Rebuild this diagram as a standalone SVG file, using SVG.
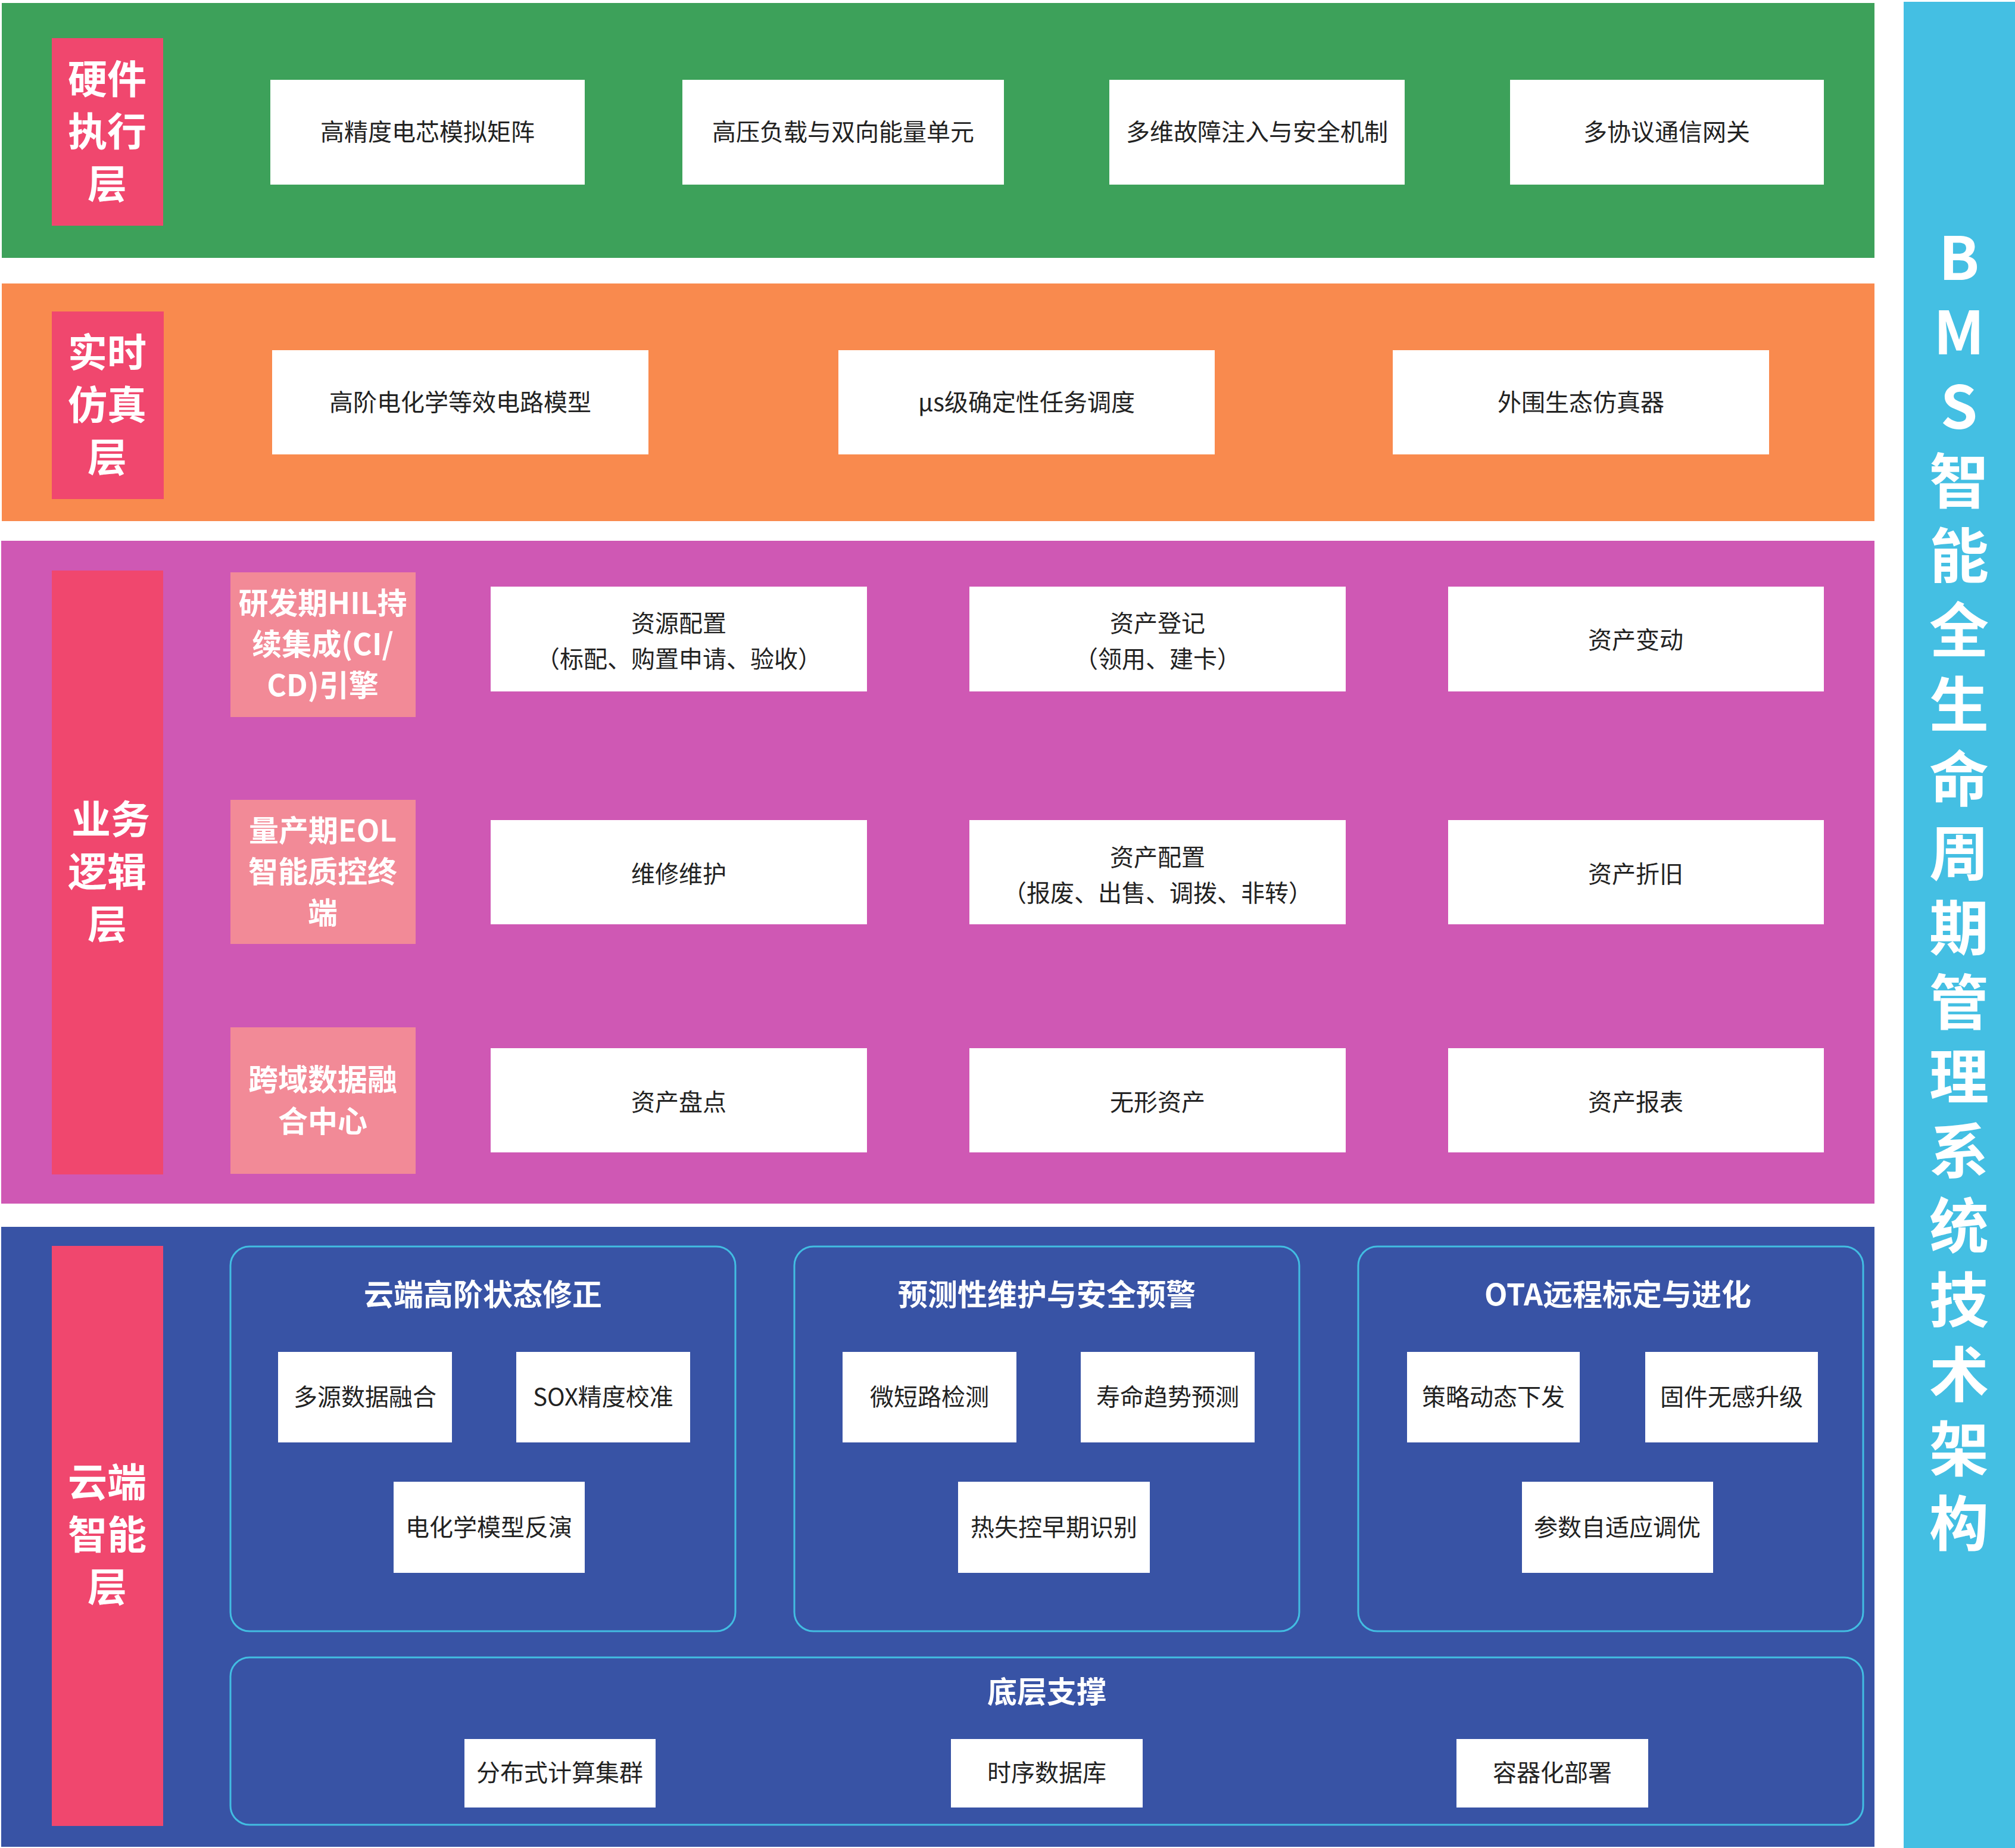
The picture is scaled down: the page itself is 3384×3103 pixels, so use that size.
<svg xmlns="http://www.w3.org/2000/svg" width="3384" height="3103" viewBox="0 0 3384 3103">
<style>
text{font-family:"Noto Sans CJK SC","Noto Sans",sans-serif;text-anchor:middle}
.box{fill:#ffffff}
.bt{font-size:40px;fill:#222222}
.lab{fill:#F0476E}
.lt{font-size:66px;font-weight:bold;fill:#ffffff}
.sub{fill:#F28A97}
.st{font-size:50px;font-weight:bold;fill:#ffffff}
.grp{fill:none;stroke:#42BDE2;stroke-width:3}
.gt{font-size:50px;font-weight:bold;fill:#ffffff}
.side{font-size:100px;font-weight:bold;fill:#ffffff;writing-mode:vertical-rl;text-orientation:upright;letter-spacing:25px;text-anchor:start}
</style>
<rect width="3384" height="3103" fill="#ffffff"/>

<g id="layer-hardware">
<rect x="3" y="5" width="3145" height="428" fill="#3DA15A"/>
<rect class="lab" x="87" y="64" width="187" height="315"/>
<text class="lt" x="180"><tspan x="180" y="157">硬件</tspan><tspan x="180" y="245">执行</tspan><tspan x="180" y="333">层</tspan></text>
</g>
<g id="n-hw1"><rect class="box" x="454" y="134" width="528" height="176"/><text class="bt" x="718" y="236">高精度电芯模拟矩阵</text></g>
<g id="n-hw2"><rect class="box" x="1146" y="134" width="540" height="176"/><text class="bt" x="1416" y="236">高压负载与双向能量单元</text></g>
<g id="n-hw3"><rect class="box" x="1863" y="134" width="496" height="176"/><text class="bt" x="2111" y="236">多维故障注入与安全机制</text></g>
<g id="n-hw4"><rect class="box" x="2536" y="134" width="527" height="176"/><text class="bt" x="2799" y="236">多协议通信网关</text></g>

<g id="layer-sim">
<rect x="3" y="476" width="3145" height="399" fill="#F98A4E"/>
<rect class="lab" x="87" y="523" width="188" height="315"/>
<text class="lt" x="180"><tspan x="180" y="616">实时</tspan><tspan x="180" y="704">仿真</tspan><tspan x="180" y="792">层</tspan></text>
</g>
<g id="n-sim1"><rect class="box" x="457" y="588" width="632" height="175"/><text class="bt" x="773" y="690">高阶电化学等效电路模型</text></g>
<g id="n-sim2"><rect class="box" x="1408" y="588" width="632" height="175"/><text class="bt" x="1724" y="690">μs级确定性任务调度</text></g>
<g id="n-sim3"><rect class="box" x="2339" y="588" width="632" height="175"/><text class="bt" x="2655" y="690">外围生态仿真器</text></g>

<g id="layer-biz">
<rect x="2" y="908" width="3146" height="1113" fill="#CF58B4"/>
<rect class="lab" x="87" y="958" width="187" height="1014"/>
<text class="lt" x="180"><tspan x="186" y="1400">业务</tspan><tspan x="180" y="1488">逻辑</tspan><tspan x="180" y="1576">层</tspan></text>
</g>
<g id="n-biz-s1"><rect class="sub" x="387" y="961" width="311" height="243"/><text class="st"><tspan x="542" y="1031">研发期HIL持</tspan><tspan x="542" y="1100">续集成(CI/</tspan><tspan x="542" y="1169">CD)引擎</tspan></text></g>
<g id="n-biz-s2"><rect class="sub" x="387" y="1343" width="311" height="242"/><text class="st"><tspan x="542" y="1413">量产期EOL</tspan><tspan x="542" y="1482">智能质控终</tspan><tspan x="542" y="1551">端</tspan></text></g>
<g id="n-biz-s3"><rect class="sub" x="387" y="1725" width="311" height="246"/><text class="st"><tspan x="542" y="1831">跨域数据融</tspan><tspan x="542" y="1901">合中心</tspan></text></g>

<g id="n-biz1"><rect class="box" x="824" y="985" width="632" height="176"/><text class="bt"><tspan x="1140" y="1061">资源配置</tspan><tspan x="1140" y="1121">（标配、购置申请、验收）</tspan></text></g>
<g id="n-biz2"><rect class="box" x="1628" y="985" width="632" height="176"/><text class="bt"><tspan x="1944" y="1061">资产登记</tspan><tspan x="1944" y="1121">（领用、建卡）</tspan></text></g>
<g id="n-biz3"><rect class="box" x="2432" y="985" width="631" height="176"/><text class="bt" x="2747" y="1089">资产变动</text></g>
<g id="n-biz4"><rect class="box" x="824" y="1377" width="632" height="175"/><text class="bt" x="1140" y="1482">维修维护</text></g>
<g id="n-biz5"><rect class="box" x="1628" y="1377" width="632" height="175"/><text class="bt"><tspan x="1944" y="1454">资产配置</tspan><tspan x="1944" y="1514">（报废、出售、调拨、非转）</tspan></text></g>
<g id="n-biz6"><rect class="box" x="2432" y="1377" width="631" height="175"/><text class="bt" x="2747" y="1482">资产折旧</text></g>
<g id="n-biz7"><rect class="box" x="824" y="1760" width="632" height="175"/><text class="bt" x="1140" y="1865">资产盘点</text></g>
<g id="n-biz8"><rect class="box" x="1628" y="1760" width="632" height="175"/><text class="bt" x="1944" y="1865">无形资产</text></g>
<g id="n-biz9"><rect class="box" x="2432" y="1760" width="631" height="175"/><text class="bt" x="2747" y="1865">资产报表</text></g>

<g id="layer-cloud">
<rect x="2" y="2060" width="3146" height="1041" fill="#3853A5"/>
<rect class="lab" x="87" y="2092" width="187" height="974"/>
<text class="lt" x="180"><tspan x="180" y="2513">云端</tspan><tspan x="180" y="2601">智能</tspan><tspan x="180" y="2689">层</tspan></text>
</g>
<g id="g-cloud1">
<rect class="grp" x="387" y="2093" width="848" height="646" rx="32"/>
<text class="gt" x="811" y="2192">云端高阶状态修正</text>
</g>
<g id="n-c1"><rect class="box" x="467" y="2270" width="292" height="152"/><text class="bt" x="613" y="2360">多源数据融合</text></g>
<g id="n-c2"><rect class="box" x="867" y="2270" width="292" height="152"/><text class="bt" x="1013" y="2360">SOX精度校准</text></g>
<g id="n-c3"><rect class="box" x="661" y="2488" width="321" height="153"/><text class="bt" x="821" y="2579">电化学模型反演</text></g>

<g id="g-cloud2">
<rect class="grp" x="1334" y="2093" width="848" height="646" rx="32"/>
<text class="gt" x="1758" y="2192">预测性维护与安全预警</text>
</g>
<g id="n-c4"><rect class="box" x="1415" y="2270" width="292" height="152"/><text class="bt" x="1561" y="2360">微短路检测</text></g>
<g id="n-c5"><rect class="box" x="1815" y="2270" width="292" height="152"/><text class="bt" x="1961" y="2360">寿命趋势预测</text></g>
<g id="n-c6"><rect class="box" x="1609" y="2488" width="322" height="153"/><text class="bt" x="1770" y="2579">热失控早期识别</text></g>

<g id="g-cloud3">
<rect class="grp" x="2281" y="2093" width="848" height="646" rx="32"/>
<text class="gt" x="2717" y="2192">OTA远程标定与进化</text>
</g>
<g id="n-c7"><rect class="box" x="2363" y="2270" width="290" height="152"/><text class="bt" x="2508" y="2360">策略动态下发</text></g>
<g id="n-c8"><rect class="box" x="2763" y="2270" width="290" height="152"/><text class="bt" x="2908" y="2360">固件无感升级</text></g>
<g id="n-c9"><rect class="box" x="2556" y="2488" width="321" height="153"/><text class="bt" x="2716" y="2579">参数自适应调优</text></g>

<g id="g-base">
<rect class="grp" x="387" y="2783" width="2742" height="281" rx="32"/>
<text class="gt" x="1758" y="2859">底层支撑</text>
</g>
<g id="n-b1"><rect class="box" x="780" y="2920" width="321" height="115"/><text class="bt" x="940" y="2991">分布式计算集群</text></g>
<g id="n-b2"><rect class="box" x="1597" y="2920" width="322" height="115"/><text class="bt" x="1758" y="2991">时序数据库</text></g>
<g id="n-b3"><rect class="box" x="2446" y="2920" width="322" height="115"/><text class="bt" x="2607" y="2991">容器化部署</text></g>

<g id="side-title">
<rect x="3197" y="3" width="187" height="3100" fill="#44BFE3"/>
<text class="side" x="3290" y="382">BMS智能全生命周期管理系统技术架构</text>
</g>
<g id="connectors"></g>
</svg>
